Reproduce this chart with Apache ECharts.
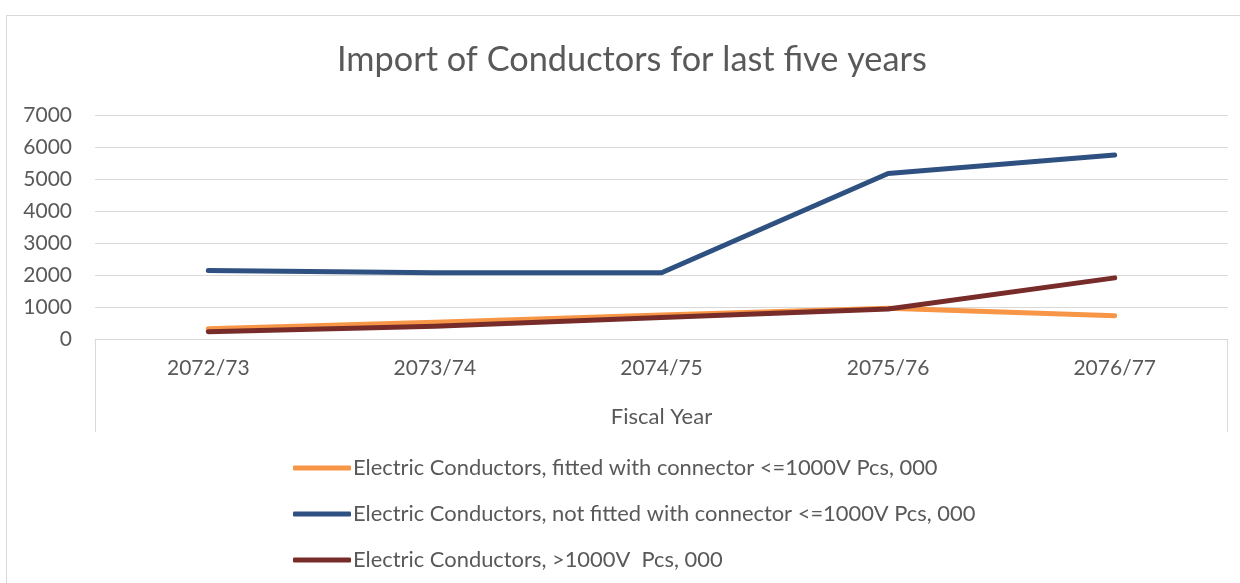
<!DOCTYPE html>
<html>
<head>
<meta charset="utf-8">
<title>Import of Conductors</title>
<script type="text/javascript" src="https://cdn.jsdelivr.net/npm/echarts@6/dist/echarts.min.js"></script>
<style>
  html, body { margin: 0; padding: 0; background: #fff; }
  #chart { width: 1240px; height: 583px; }
</style>
</head>
<body>
<div id="chart"></div>
<script type="text/javascript">
// data (Pcs, 000)
var years = ['2072/73', '2073/74', '2074/75', '2075/76', '2076/77'];
var seriesNames = [
  'Electric Conductors, fitted with connector <=1000V Pcs, 000',
  'Electric Conductors, not fitted with connector <=1000V Pcs, 000',
  'Electric Conductors, >1000V  Pcs, 000'
];
var fitted = [320, 520, 750, 960, 730];
var notFitted = [2140, 2070, 2070, 5170, 5750];
var highVolt = [230, 400, 670, 940, 1910];
var yTicks = [0, 1000, 2000, 3000, 4000, 5000, 6000, 7000];

var colors = ['#F79646', '#2F5181', '#772C2A'];
var textColor = '#595959';
var gridColor = '#D9D9D9';
var fontFamily = 'Lato, "Open Sans", sans-serif';

var myChart = echarts.init(document.getElementById('chart'));

function lineSeries(name, data, color) {
  return {
    name: name,
    type: 'line',
    data: data,
    showSymbol: false,
    symbol: 'none',
    silent: true,
    lineStyle: { color: color, width: 5, cap: 'round', join: 'round' },
    itemStyle: { color: color }
  };
}

var option = {
  backgroundColor: '#fff',
  animation: false,
  textStyle: { fontFamily: fontFamily },
  title: {
    text: 'Import of Conductors for last five years',
    left: 332,
    top: 38,
    textStyle: { color: textColor, fontSize: 34.3, fontWeight: 'normal', fontFamily: fontFamily }
  },
  legend: {
    orient: 'vertical',
    left: 288,
    top: 452,
    itemWidth: 58,
    itemHeight: 5,
    itemGap: 24,
    icon: 'roundRect',
    selectedMode: false,
    data: seriesNames,
    textStyle: { color: textColor, fontSize: 21.9, fontFamily: fontFamily, lineHeight: 22, padding: [0, 0, 0, -3] }
  },
  grid: { left: 95, right: 12, top: 115, bottom: 244, containLabel: false },
  xAxis: {
    type: 'category',
    data: years,
    boundaryGap: true,
    name: 'Fiscal Year',
    nameLocation: 'middle',
    nameGap: 67,
    nameTextStyle: { color: textColor, fontSize: 22, fontFamily: fontFamily },
    axisLine: { lineStyle: { color: gridColor, width: 1 } },
    axisTick: { show: false },
    axisLabel: { color: textColor, fontSize: 21, margin: 19, fontFamily: fontFamily }
  },
  yAxis: {
    type: 'value',
    min: yTicks[0],
    max: yTicks[yTicks.length - 1],
    interval: 1000,
    axisLine: { show: false },
    axisTick: { show: false },
    axisLabel: {
      color: textColor, fontSize: 21, margin: 23, fontFamily: fontFamily,
      formatter: function (v) { return String(v); }
    },
    splitLine: { lineStyle: { color: gridColor, width: 1 } }
  },
  series: [
    lineSeries(seriesNames[0], fitted, colors[0]),
    lineSeries(seriesNames[1], notFitted, colors[1]),
    lineSeries(seriesNames[2], highVolt, colors[2])
  ],
  graphic: [
    // outer chart frame
    { type: 'rect', shape: { x: 6.5, y: 15.5, width: 1300, height: 700 },
      style: { fill: 'none', stroke: gridColor, lineWidth: 1 }, silent: true },
    // category axis side lines
    { type: 'line', shape: { x1: 95.5, y1: 339, x2: 95.5, y2: 432 },
      style: { stroke: gridColor, lineWidth: 1 }, silent: true },
    { type: 'line', shape: { x1: 1227.5, y1: 339, x2: 1227.5, y2: 432 },
      style: { stroke: gridColor, lineWidth: 1 }, silent: true }
  ]
};

myChart.setOption(option);
</script>
</body>
</html>
